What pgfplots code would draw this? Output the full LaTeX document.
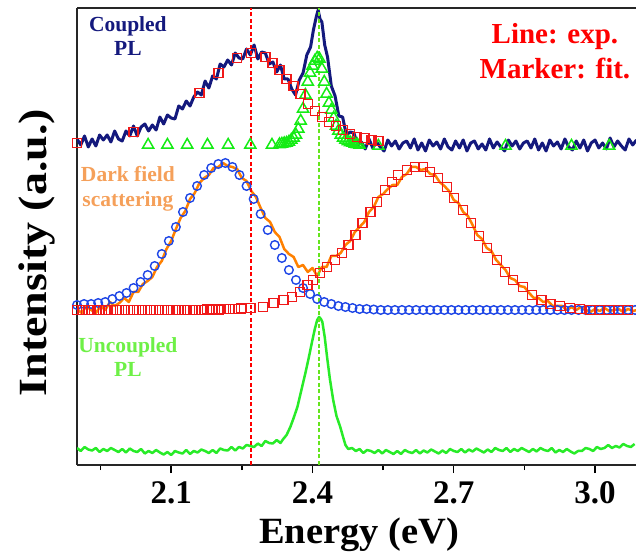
\documentclass[border=0pt]{standalone}
\usepackage{fontspec}
\setmainfont{Liberation Serif}
\usepackage{pgfplots}
\pgfplotsset{compat=1.18}
\usetikzlibrary{calc}
\definecolor{navyPL}{RGB}{20,25,125}
\definecolor{redc}{RGB}{240,25,25}
\definecolor{redtxt}{RGB}{255,0,0}
\definecolor{greentri}{RGB}{20,235,20}
\definecolor{greenline}{RGB}{40,235,40}
\definecolor{greentxt}{RGB}{110,240,70}
\definecolor{greendash}{RGB}{100,228,30}
\definecolor{orangeline}{RGB}{255,128,0}
\definecolor{orangetxt}{RGB}{245,160,90}
\definecolor{bluecirc}{RGB}{30,70,230}
\begin{document}
\begin{tikzpicture}
\begin{axis}[
  scale only axis, width=559pt, height=457pt,
  xmin=1.9, xmax=3.087, ymin=0, ymax=457,
  axis x line=box, axis y line=left,
  axis line style={-, line width=1.8pt, black!85},
  xtick={2.1,2.4,2.7,3.0}, xticklabels={2.1,2.4,2.7,3.0},
  minor xtick={1.95,2.25,2.55,2.85},
  xtick pos=left, tick align=outside,
  major tick length=8pt, minor tick length=5pt,
  every tick/.style={line width=1.4pt, black},
  ytick=\empty,
  xticklabel style={font=\bfseries\fontsize{33}{33}\selectfont, yshift=-5pt},
  xlabel={\scalebox{1.04}[1]{Energy (eV)}},
  ylabel={\scalebox{1.15}[1]{Intensity (a.u.)}},
  xlabel style={font=\bfseries\fontsize{37}{37}\selectfont, at={(rel axis cs:0.5045,-0.1707)}, anchor=base},
  ylabel style={font=\bfseries\fontsize{40}{40}\selectfont, at={(rel axis cs:-0.0537,0.465)}, anchor=base, rotate=0},
  clip=true,
]
\coordinate (SW) at (rel axis cs:0,0);
\coordinate (NE) at (rel axis cs:1,1);

% ---- Coupled PL: fits (markers) ----
\addplot[only marks, mark=triangle, mark size=6.5pt, greentri, mark options={line width=1.5pt, solid}] coordinates {
(2.051,320) (2.092,320) (2.134,320) (2.177,320) (2.221,320) (2.268,320) (2.314,320)
(2.330,320.5) (2.335,321) (2.340,321.5) (2.345,322) (2.350,323) (2.355,325) (2.360,327)
(2.365,330) (2.370,336) (2.375,344) (2.380,356) (2.385,370) (2.390,383) (2.395,392)
(2.400,399) (2.405,404) (2.410,407) (2.415,406) (2.420,396) (2.425,383) (2.430,371)
(2.435,362) (2.440,355) (2.445,347) (2.450,339) (2.455,334) (2.460,330) (2.465,327)
(2.470,325) (2.475,323.5) (2.480,322.5) (2.485,322) (2.490,321) (2.495,320.5) (2.500,320)
(2.54,319) (2.81,319) (2.95,319) (3.03,319)
};
\addplot[only marks, mark=square, mark size=4.5pt, redc, mark options={line width=1.5pt, solid}] coordinates {
(1.90,322) (2.02,333) (2.16,372) (2.20,392) (2.24,407) (2.27,412) (2.30,408) (2.315,402)
(2.33,395) (2.345,386) (2.36,379) (2.375,371) (2.39,361) (2.405,354) (2.42,348) (2.435,343)
(2.45,339) (2.465,335) (2.48,331) (2.495,328) (2.51,327) (2.525,325) (2.54,324)
};
% ---- Coupled PL: experiment ----
\addplot[navyPL, line width=3pt, line join=round] coordinates {
(1.900,326) (1.908,320) (1.916,329) (1.924,318) (1.932,326) (1.940,319) (1.948,330) (1.956,325)
(1.964,330) (1.972,323) (1.980,334) (1.988,326) (1.996,324) (2.004,334) (2.012,329) (2.020,339)
(2.028,329) (2.036,338) (2.044,341) (2.052,334) (2.060,340) (2.068,335) (2.076,348) (2.084,341)
(2.092,350) (2.100,347) (2.108,346) (2.116,359) (2.124,356) (2.132,364) (2.140,359) (2.148,368)
(2.156,373) (2.164,370) (2.172,384) (2.180,377) (2.188,389) (2.196,386) (2.204,401) (2.212,398)
(2.220,405) (2.228,400) (2.236,412) (2.244,407) (2.252,406) (2.260,416) (2.268,410) (2.276,420)
(2.284,406) (2.292,413) (2.300,412) (2.308,401) (2.316,403) (2.324,393) (2.332,400) (2.340,386)
(2.348,386) (2.356,376) (2.364,370) (2.372,385) (2.380,392) (2.388,410) (2.396,418) (2.402,435)
(2.408,448) (2.412,455) (2.416,446) (2.420,443) (2.426,420) (2.432,408) (2.440,379) (2.448,369)
(2.456,349) (2.464,348) (2.472,330) (2.480,333) (2.488,332) (2.496,320) (2.504,323) (2.512,316)
(2.520,326) (2.528,317) (2.536,323) (2.544,318) (2.552,314) (2.560,325) (2.568,319) (2.576,324)
(2.584,316) (2.592,322) (2.600,324) (2.608,317) (2.616,326) (2.624,315) (2.632,322) (2.640,314)
(2.648,325) (2.656,319) (2.664,323) (2.672,316) (2.680,326) (2.688,318) (2.696,315) (2.704,324)
(2.712,317) (2.720,325) (2.728,314) (2.736,322) (2.744,324) (2.752,316) (2.760,321) (2.768,315)
(2.776,326) (2.784,317) (2.792,323) (2.800,318) (2.808,314) (2.816,325) (2.824,319) (2.832,324)
(2.840,316) (2.848,322) (2.856,324) (2.864,317) (2.872,326) (2.880,315) (2.888,322) (2.896,314)
(2.904,325) (2.912,319) (2.920,323) (2.928,316) (2.936,326) (2.944,318) (2.952,315) (2.960,324)
(2.968,317) (2.976,325) (2.984,314) (2.992,322) (3.000,325) (3.008,317) (3.016,322) (3.024,316)
(3.032,327) (3.040,318) (3.048,324) (3.056,319) (3.064,315) (3.072,326) (3.080,320) (3.088,325)
};

% ---- Dark field: fits ----
\addplot[only marks, mark=o, mark size=4.3pt, bluecirc, mark options={line width=1.4pt, solid}] coordinates {
(1.900,160) (1.915,161) (1.930,161) (1.945,162) (1.960,163) (1.975,166) (1.990,169) (2.005,172)
(2.020,177) (2.035,183) (2.050,190) (2.065,199) (2.080,211) (2.095,224) (2.110,238) (2.125,253)
(2.140,267) (2.155,279) (2.170,290) (2.185,297) (2.200,301) (2.215,302) (2.230,298) (2.245,290)
(2.260,279) (2.275,266) (2.290,251) (2.305,235) (2.320,220) (2.335,207) (2.350,195) (2.365,185)
(2.380,177) (2.395,171) (2.410,166) (2.425,163) (2.440,161) (2.455,159) (2.470,158) (2.485,157)
(2.500,156) (2.515,156) (2.530,155.5) (2.545,155) (2.560,155) (2.575,155) (2.590,155) (2.605,155)
(2.620,155) (2.635,155) (2.650,155) (2.665,155) (2.680,155) (2.695,155) (2.710,155) (2.725,155)
(2.740,155) (2.755,155) (2.770,155) (2.785,155) (2.800,155) (2.815,155) (2.830,155) (2.845,155)
(2.860,155) (2.875,155) (2.890,155) (2.905,155) (2.920,155) (2.935,155) (2.950,155) (2.965,155)
(2.980,155) (2.995,155) (3.010,155) (3.025,155) (3.040,155) (3.055,155) (3.070,155) (3.085,155)
};
\addplot[only marks, mark=square, mark size=4.5pt, redc, mark options={line width=1.5pt, solid}] coordinates {
(1.900,155) (1.912,155) (1.924,155) (1.936,155) (1.948,155) (1.960,155) (1.972,155) (1.984,155)
(1.996,155) (2.008,155) (2.020,155) (2.032,155) (2.044,155) (2.056,155) (2.068,155) (2.080,155)
(2.092,155) (2.104,155) (2.116,155) (2.128,155) (2.140,155) (2.152,155) (2.164,155) (2.176,155.5)
(2.188,155.5) (2.200,155.5) (2.212,156) (2.224,156) (2.236,156) (2.248,156.5)
(2.268,157) (2.295,158) (2.317,162) (2.338,165) (2.357,168) (2.374,173) (2.389,180) (2.401,185)
(2.416,192) (2.431,198) (2.448,205) (2.463,212) (2.476,220) (2.491,230) (2.506,242) (2.523,253)
(2.537,263) (2.554,275) (2.569,283) (2.582,290) (2.601,295) (2.618,298) (2.635,298) (2.650,293)
(2.667,287) (2.686,278) (2.701,267) (2.720,255) (2.737,242) (2.754,229) (2.771,217) (2.792,205)
(2.809,193) (2.826,185) (2.847,178) (2.866,170) (2.886,165) (2.905,161) (2.926,159) (2.947,157)
(2.968,156) (2.990,155) (3.010,155) (3.030,155) (3.050,155) (3.070,155)
};
% ---- Dark field: experiment ----
\addplot[orangeline, line width=2.5pt, line join=round] coordinates {
(1.90,156) (1.91,152) (1.92,159) (1.93,155) (1.94,152) (1.95,159) (1.96,155) (1.97,163) (1.98,159)
(1.99,162) (2.00,167) (2.01,163) (2.02,173) (2.03,173) (2.04,181) (2.05,184) (2.06,188) (2.07,198)
(2.08,204) (2.09,216) (2.10,224) (2.11,236) (2.12,247) (2.13,254) (2.14,266) (2.15,272) (2.16,282)
(2.17,287) (2.18,290) (2.19,297) (2.20,298) (2.21,302) (2.22,299) (2.23,298) (2.24,296) (2.25,287)
(2.26,284) (2.27,274) (2.28,268) (2.29,257) (2.30,247) (2.31,243) (2.32,233) (2.33,228) (2.34,216)
(2.35,211) (2.36,208) (2.37,198) (2.38,200) (2.39,193) (2.40,197) (2.41,189) (2.42,198) (2.43,198)
(2.44,209) (2.45,209) (2.46,212) (2.47,220) (2.48,224) (2.49,233) (2.50,238) (2.51,243) (2.52,253)
(2.53,258) (2.54,268) (2.55,271) (2.56,276) (2.57,280) (2.58,280) (2.59,288) (2.60,291) (2.61,298)
(2.62,298) (2.63,295) (2.64,296) (2.65,291) (2.66,290) (2.67,283) (2.68,279) (2.69,274) (2.70,265)
(2.71,262) (2.72,253) (2.73,249) (2.74,240) (2.75,230) (2.76,226) (2.77,217) (2.78,214) (2.79,205)
(2.80,200) (2.81,195) (2.82,187) (2.83,185) (2.84,179) (2.85,178) (2.86,172) (2.87,167) (2.88,167)
(2.89,163) (2.90,164) (2.91,159) (2.92,159) (2.93,159) (2.94,155) (2.95,158) (2.96,155) (2.97,158)
(2.98,155) (2.99,153) (3.00,156) (3.01,154) (3.02,157) (3.03,154) (3.04,155) (3.05,156) (3.06,153)
(3.07,156) (3.08,154) (3.09,155)
};

% ---- Uncoupled PL ----
\addplot[greenline, line width=2.5pt, line join=round] coordinates {
(1.900,17) (1.908,14) (1.916,18) (1.924,15.5) (1.932,14.5) (1.940,17) (1.948,13) (1.956,16)
(1.964,14) (1.972,17) (1.980,15) (1.988,13) (1.996,16) (2.004,12.5) (2.012,16.5) (2.020,14)
(2.028,13) (2.036,16) (2.044,11.5) (2.052,14) (2.060,12) (2.068,15) (2.076,12.5) (2.084,10.5)
(2.092,13) (2.100,10) (2.108,14) (2.116,12.5) (2.124,11.5) (2.132,15) (2.140,11) (2.148,14)
(2.156,12.5) (2.164,15.5) (2.172,14) (2.180,12) (2.188,15) (2.196,12) (2.204,16.5) (2.212,15)
(2.220,14.5) (2.228,18) (2.236,14.5) (2.244,18) (2.252,16.5) (2.260,20) (2.268,19) (2.276,18)
(2.284,21.5) (2.292,19) (2.300,24) (2.308,22) (2.316,21.5) (2.324,25) (2.332,22)
(2.338,26) (2.345,30) (2.353,38) (2.360,47) (2.368,58) (2.376,74) (2.385,92) (2.392,107)
(2.399,123) (2.405,136) (2.410,145) (2.414,148) (2.418,146) (2.421,143) (2.426,128) (2.431,108)
(2.437,86) (2.444,65) (2.451,49) (2.459,38) (2.465,28) (2.470,20) (2.476,16)
(2.484,17) (2.492,14) (2.500,16) (2.508,12) (2.516,15) (2.524,14) (2.532,12) (2.540,15)
(2.548,11.5) (2.556,15) (2.564,13) (2.572,11) (2.580,14) (2.588,11) (2.596,15) (2.604,13)
(2.612,12) (2.620,15) (2.628,11.5) (2.636,14.5) (2.644,12.5) (2.652,15.5) (2.660,13.5) (2.668,11.5)
(2.676,14.5) (2.684,12) (2.692,16) (2.700,14) (2.708,13) (2.716,16) (2.724,12.5) (2.732,15.5)
(2.740,13.5) (2.748,16.5) (2.756,14.5) (2.764,12.5) (2.772,15.5) (2.780,13) (2.788,17) (2.796,15)
(2.804,14) (2.812,17) (2.820,13) (2.828,16) (2.836,14) (2.844,17) (2.852,15) (2.860,13)
(2.868,16) (2.876,13.5) (2.884,17) (2.892,15) (2.900,14) (2.908,17) (2.916,12.5) (2.924,15)
(2.932,13) (2.940,16) (2.948,13.5) (2.956,11.5) (2.964,14) (2.972,14) (2.980,17) (2.988,16)
(2.996,14) (3.004,18) (3.012,16) (3.020,17) (3.028,20) (3.036,17) (3.044,19) (3.052,17.5)
(3.060,21) (3.068,19) (3.076,18) (3.084,21)
};

% ---- reference lines ----
\addplot[redtxt, line width=2pt, dash pattern=on 4pt off 2.5pt] coordinates {(2.27,0) (2.27,457)};
\addplot[greendash, line width=2pt, dash pattern=on 4pt off 2.5pt] coordinates {(2.414,0) (2.414,457)};

% ---- annotations ----
\node[navyPL, font=\bfseries\fontsize{21.5}{24}\selectfont, align=center] at (rel axis cs:0.091,0.938) {Coupled\\PL};
\node[redtxt, font=\bfseries\fontsize{29}{35}\selectfont, align=center] at (rel axis cs:0.855,0.905) {Line: exp.\\Marker: fit.};
\node[orangetxt, font=\bfseries\fontsize{21.5}{25}\selectfont, align=center] at (rel axis cs:0.091,0.604) {Dark field\\scattering};
\node[greentxt, font=\bfseries\fontsize{21.5}{24}\selectfont, align=center] at (rel axis cs:0.091,0.237) {Uncoupled\\PL};
\end{axis}
\pgfresetboundingbox
\path[use as bounding box] ($(SW)+(-77pt,-88pt)$) rectangle ($(NE)+(0pt,8pt)$);
\end{tikzpicture}
\end{document}
